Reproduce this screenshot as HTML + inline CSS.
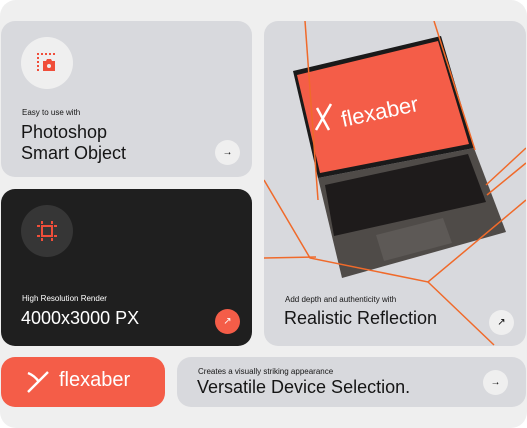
<!DOCTYPE html>
<html><head><meta charset="utf-8"><style>
*{margin:0;padding:0;box-sizing:border-box}
body{width:527px;height:428px;background:#fff;position:relative;overflow:hidden;font-family:"Liberation Sans",sans-serif}
.bg{position:absolute;left:0;top:0;width:527px;height:428px;background:#efefef;border-radius:16px}
.c{position:absolute;border-radius:14px;overflow:hidden}
.g{background:#d8d9dd}
.circ{position:absolute;border-radius:50%}
.t{position:absolute;white-space:nowrap;color:#151515}
</style></head><body>
<div class="bg"></div>
<div class="c g" style="left:1px;top:21px;width:251px;height:156px">
  <div class="circ" style="left:20px;top:16px;width:52px;height:52px;background:#efefef"></div>
  <svg style="position:absolute;left:34px;top:30px" width="24" height="24" viewBox="0 0 24 24">
   <g fill="#f04e3a"><rect x="2" y="2" width="2" height="2"/><rect x="6" y="2" width="2" height="2"/><rect x="10" y="2" width="2" height="2"/><rect x="14" y="2" width="2" height="2"/><rect x="18" y="2" width="2" height="2"/><rect x="2" y="6" width="2" height="2"/><rect x="2" y="10" width="2" height="2"/><rect x="2" y="14" width="2" height="2"/><rect x="2" y="18" width="2" height="2"/>
   <path d="M8 10h3l1-2h4l1 2h3v10H8z"/></g><circle cx="14" cy="15" r="2" fill="#efefef"/></svg>
  <div class="t" style="left:21px;top:87px;font-size:8px">Easy to use with</div>
  <div class="t" style="left:20px;top:101px;font-size:18px;line-height:21px">Photoshop<br>Smart Object</div>
  <div class="circ" style="left:214px;top:119px;width:25px;height:25px;background:#efefef;font-size:10px;text-align:center;line-height:25px">→</div>
</div>
<div class="c" style="left:1px;top:189px;width:251px;height:157px;background:#1f1f1f">
  <div class="circ" style="left:20px;top:16px;width:52px;height:52px;background:#363636"></div>
  <svg style="position:absolute;left:34px;top:30px" width="24" height="24" viewBox="0 0 24 24"><g stroke="#f04e3a" stroke-width="2" fill="none"><rect x="7" y="7" width="10" height="10"/><path d="M7 2v3M17 2v3M7 19v3M17 19v3M2 7h3M2 17h3M19 7h3M19 17h3"/></g></svg>
  <div class="t" style="left:21px;top:105px;font-size:8px;color:#fff">High Resolution Render</div>
  <div class="t" style="left:20px;top:119px;font-size:18px;color:#fff">4000x3000 PX</div>
  <div class="circ" style="left:214px;top:120px;width:25px;height:25px;background:#f45d48;color:#fff;font-size:10px;text-align:center;line-height:25px">↗</div>
</div>
<div class="c g" style="left:264px;top:21px;width:262px;height:325px">
  <svg style="position:absolute;left:0;top:0" width="262" height="325" viewBox="264 21 262 325">
    <polygon points="318,178 474,148 506,232 342,278" fill="#4f4b48"/>
    <polygon points="325,185 468,154 486,202 334,236" fill="#1e1b1b"/>
    <polygon points="376,235 443,218 452,243 384,261" fill="#5d5956"/>
    <polygon points="293,71 441,36 474,148 318,178" fill="#1a1a1a"/>
    <polygon points="297,75 438,41 469,144 320,173" fill="#f45d48"/>
    <text x="343" y="127" font-size="22" fill="#fff" font-family="Liberation Sans" transform="rotate(-12 343 127)">flexaber</text>
    <path d="M317 108l12 22M331 104l-15 26" stroke="#fff" stroke-width="2.5"/>
    <g stroke="#f06a2a" stroke-width="1.5" fill="none">
      <path d="M305 21L318 200"/><path d="M434 21L475 150"/>
      <path d="M264 180L310 258L428 282L526 200"/>
      <path d="M264 258L316 257"/><path d="M428 282L494 345"/>
      <path d="M486 185L526 148"/><path d="M487 195L526 163"/>
    </g>
  </svg>
  <div class="t" style="left:21px;top:274px;font-size:8px">Add depth and authenticity with</div>
  <div class="t" style="left:20px;top:287px;font-size:18px">Realistic Reflection</div>
  <div class="circ" style="left:225px;top:289px;width:25px;height:25px;background:#efefef;font-size:10px;text-align:center;line-height:25px">↗</div>
</div>
<div class="c" style="left:1px;top:357px;width:164px;height:50px;background:#f45d48">
  <svg style="position:absolute;left:24px;top:14px" width="26" height="22" viewBox="0 0 26 22"><path d="M3 2c5 2 9 6 11 9M13 11L3 21M13 11L23 1" stroke="#fff" stroke-width="2.4" fill="none"/></svg>
  <div class="t" style="left:58px;top:12px;font-size:20px;color:#fff">flexaber</div>
</div>
<div class="c g" style="left:177px;top:357px;width:349px;height:50px">
  <div class="t" style="left:21px;top:10px;font-size:8px">Creates a visually striking appearance</div>
  <div class="t" style="left:20px;top:20px;font-size:18px">Versatile Device Selection.</div>
  <div class="circ" style="left:306px;top:13px;width:25px;height:25px;background:#efefef;font-size:10px;text-align:center;line-height:25px">→</div>
</div>
</body></html>
